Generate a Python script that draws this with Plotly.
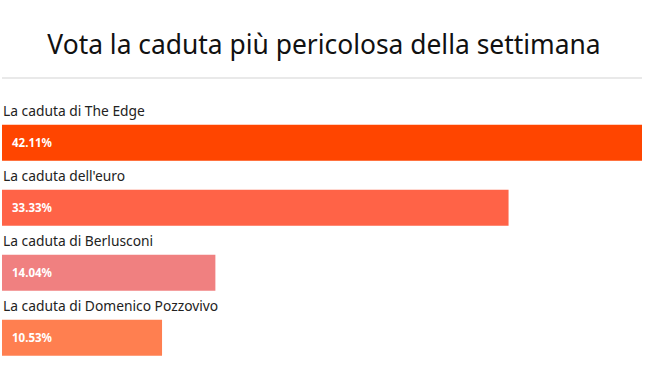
import plotly.graph_objects as go

categories = ["La caduta di The Edge", "La caduta dell'euro",
              "La caduta di Berlusconi", "La caduta di Domenico Pozzovivo"]
values = [42.11, 33.33, 14.04, 10.53]
colors = ["#FF4500", "#FF6347", "#F08080", "#FF7F50"]
title_text = "Vota la caduta più pericolosa della settimana"

W, H = 648, 371
top = 78          # separator line / plot top
first_center = 142.8
step = 65.0
bar_px = 36

y_pos = list(range(len(categories)))
y_top = (top - first_center) / step
y_bot = (len(categories) - 1) + (H - (first_center + step * (len(categories) - 1))) / step

fig = go.Figure()
fig.add_trace(go.Bar(
    x=values, y=y_pos, orientation="h",
    marker=dict(color=colors, line=dict(width=0)),
    width=bar_px / step,
    hoverinfo="skip",
))

annotations = []
for i, (c, v) in enumerate(zip(categories, values)):
    annotations.append(dict(
        x=0, y=i, xref="x", yref="y", text=c, showarrow=False,
        xanchor="left", yanchor="middle", xshift=-1, yshift=32,
        font=dict(family="Noto Sans, sans-serif", size=13.8, color="#222222"),
    ))
    annotations.append(dict(
        x=0, y=i, xref="x", yref="y", text=f"<b>{v:.2f}%</b>", showarrow=False,
        xanchor="left", yanchor="middle", xshift=8, yshift=0,
        font=dict(family="Noto Sans, sans-serif", size=11.5, color="#FFFFFF"),
    ))

fig.update_layout(
    width=W, height=H,
    margin=dict(l=2, r=6, t=top, b=0, pad=0),
    paper_bgcolor="white", plot_bgcolor="white",
    showlegend=False,
    hovermode=False,
    title=dict(text=title_text, x=0.5, xanchor="center",
               y=1 - 45 / H, yanchor="middle", yref="container",
               font=dict(family="Noto Sans, sans-serif", size=26.4, color="#111111")),
    xaxis=dict(range=[0, max(values)], visible=False, fixedrange=True),
    yaxis=dict(range=[y_bot, y_top], visible=False, fixedrange=True),
    annotations=annotations,
    shapes=[dict(type="line", xref="paper", yref="paper", x0=0, x1=1, y0=1, y1=1,
                 line=dict(color="#D3D3D3", width=1))],
)

fig.write_html("out.html", config={"displayModeBar": False},
               post_script="document.body.style.margin='0';")
